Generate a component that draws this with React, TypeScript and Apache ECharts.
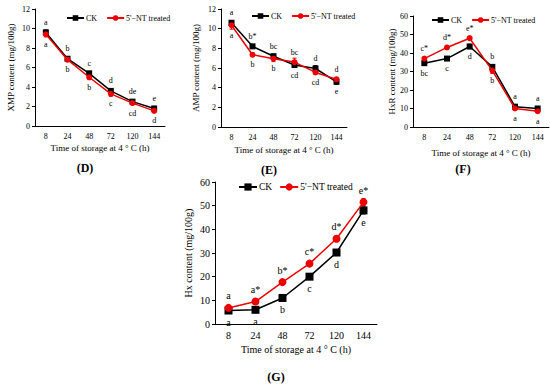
import React, { useEffect, useRef } from "react";
import * as echarts from "echarts";

const categories = ["8", "24", "48", "72", "120", "144"];

// (D) XMP
const xmpCK = [9.6, 6.9, 5.4, 3.6, 2.5, 1.8];
const xmpNT = [9.4, 6.8, 5.0, 3.3, 2.35, 1.55];
const xmpCKErr = [0.25, 0.2, 0.2, 0.2, 0.15, 0.15];
const xmpNTErr = [0.25, 0.2, 0.25, 0.25, 0.15, 0.15];
const xmpCKLetters = ["a", "b", "c", "d", "de", "e"];
const xmpNTLetters = ["a", "b", "b", "c", "cd", "d"];

// (E) AMP
const ampCK = [10.6, 8.2, 7.2, 6.3, 5.95, 4.6];
const ampNT = [10.35, 7.35, 6.95, 6.6, 5.55, 4.85];
const ampCKErr = [0.2, 0.2, 0.2, 0.25, 0.3, 0.25];
const ampNTErr = [0.4, 0.2, 0.3, 0.4, 0.2, 0.2];
const ampCKLetters = ["a", "b*", "bc", "cd", "d", "e"];
const ampNTLetters = ["a", "b", "b", "bc", "cd", "d"];

// (F) HxR
const hxrCK = [34.5, 37, 43.5, 32.5, 11, 10];
const hxrNT = [37, 43, 48, 30.5, 10, 8.5];
const hxrCKErr = [1.2, 0.8, 1.2, 1.0, 0.6, 0.6];
const hxrNTErr = [0.8, 0.8, 1.0, 1.5, 0.6, 0.8];
const hxrCKLetters = ["bc", "c", "d", "b", "a", "a"];
const hxrNTLetters = ["c*", "d*", "e*", "b", "a", "a"];

// (G) Hx
const hxCK = [5.7, 6.0, 11.0, 20.0, 30.2, 48.0];
const hxNT = [6.8, 9.5, 17.7, 25.5, 36.0, 51.5];
const hxCKErr = [0.5, 0.5, 0.6, 0.8, 1.0, 1.5];
const hxNTErr = [0.5, 0.6, 0.7, 1.0, 1.2, 1.5];
const hxCKLetters = ["a", "a", "b", "c", "d", "e"];
const hxNTLetters = ["a", "a*", "b*", "c*", "d*", "e*"];

const CK_NAME = "CK";
const NT_NAME = "5'\u2212NT treated";
const FONT = "'Liberation Serif', 'Times New Roman', serif";
const RED = "#ee0000";
const BLACK = "#000000";

type PanelData = {
  yName: string;
  max: number;
  interval: number;
  ck: number[];
  nt: number[];
  ckErr: number[];
  ntErr: number[];
  ckLetters: string[];
  ntLetters: string[];
};

type Layout = {
  left: number;
  top: number;
  width: number;
  height: number;
  fs: number;
  nameFs: number;
  legendFs: number;
  yGap: number;
  xGap: number;
  legendLeft: number;
  legendTop: number;
  itemWidth: number;
  itemGap: number;
};

const panels: PanelData[] = [
  { yName: "XMP content (mg/100g)", max: 12, interval: 2, ck: xmpCK, nt: xmpNT, ckErr: xmpCKErr, ntErr: xmpNTErr, ckLetters: xmpCKLetters, ntLetters: xmpNTLetters },
  { yName: "AMP content (mg/100g)", max: 12, interval: 2, ck: ampCK, nt: ampNT, ckErr: ampCKErr, ntErr: ampNTErr, ckLetters: ampCKLetters, ntLetters: ampNTLetters },
  { yName: "HxR content (mg/100g)", max: 60, interval: 10, ck: hxrCK, nt: hxrNT, ckErr: hxrCKErr, ntErr: hxrNTErr, ckLetters: hxrCKLetters, ntLetters: hxrNTLetters },
  { yName: "Hx content (mg/100g)", max: 60, interval: 10, ck: hxCK, nt: hxNT, ckErr: hxCKErr, ntErr: hxNTErr, ckLetters: hxCKLetters, ntLetters: hxNTLetters },
];

const layouts: Layout[] = [
  { left: 35, top: 9, width: 130, height: 117, fs: 8, nameFs: 9, legendFs: 8, yGap: 20, xGap: 17, legendLeft: 61, legendTop: 9, itemWidth: 17, itemGap: 9 },
  { left: 221, top: 9, width: 126, height: 118, fs: 8, nameFs: 9, legendFs: 8, yGap: 21, xGap: 18, legendLeft: 246, legendTop: 7, itemWidth: 17, itemGap: 9 },
  { left: 413, top: 16, width: 136, height: 111, fs: 8, nameFs: 9, legendFs: 8, yGap: 17, xGap: 21, legendLeft: 426, legendTop: 11, itemWidth: 17, itemGap: 9 },
  { left: 215, top: 182, width: 162, height: 142, fs: 10, nameFs: 10, legendFs: 9.5, yGap: 22, xGap: 20, legendLeft: 233, legendTop: 177, itemWidth: 18, itemGap: 7 },
];

const panelTags = [
  { text: "(D)", x: 85, y: 168 },
  { text: "(E)", x: 269, y: 170 },
  { text: "(F)", x: 463, y: 169 },
  { text: "(G)", x: 276, y: 377 },
];

function errRender(color: string) {
  return (params: any, api: any) => {
    const x = api.value(0);
    const y = api.value(1);
    const e = api.value(2);
    const top = api.coord([x, y + e]);
    const bot = api.coord([x, y - e]);
    const c = 2;
    const style = { stroke: color, lineWidth: 1 };
    return {
      type: "group",
      children: [
        { type: "line", shape: { x1: top[0], y1: top[1], x2: bot[0], y2: bot[1] }, style },
        { type: "line", shape: { x1: top[0] - c, y1: top[1], x2: top[0] + c, y2: top[1] }, style },
        { type: "line", shape: { x1: bot[0] - c, y1: bot[1], x2: bot[0] + c, y2: bot[1] }, style },
      ],
    };
  };
}

function buildOption() {
  const grid: any[] = [];
  const xAxis: any[] = [];
  const yAxis: any[] = [];
  const legend: any[] = [];
  const series: any[] = [];

  panels.forEach((p, i) => {
    const L = layouts[i];
    grid.push({ left: L.left, top: L.top, width: L.width, height: L.height });
    xAxis.push({
      type: "category",
      gridIndex: i,
      data: categories,
      name: "Time of storage at 4 \u00b0 C (h)",
      nameLocation: "middle",
      nameGap: L.xGap,
      nameTextStyle: { fontFamily: FONT, fontSize: L.nameFs, color: BLACK },
      axisLine: { lineStyle: { color: BLACK, width: 1 } },
      axisTick: { inside: true, length: 3, lineStyle: { color: BLACK } },
      axisLabel: { fontFamily: FONT, fontSize: L.fs, color: BLACK, margin: 6 },
    });
    yAxis.push({
      type: "value",
      gridIndex: i,
      min: 0,
      max: p.max,
      interval: p.interval,
      name: p.yName,
      nameLocation: "middle",
      nameGap: L.yGap,
      nameRotate: 90,
      nameTextStyle: { fontFamily: FONT, fontSize: L.nameFs, color: BLACK },
      splitLine: { show: false },
      axisLine: { show: true, lineStyle: { color: BLACK, width: 1 } },
      axisTick: { show: true, length: 3, lineStyle: { color: BLACK } },
      axisLabel: { fontFamily: FONT, fontSize: L.fs, color: BLACK, margin: 5 },
    });
    legend.push({
      left: L.legendLeft,
      top: L.legendTop,
      orient: "horizontal",
      itemWidth: L.itemWidth,
      itemHeight: L.fs - 1,
      itemGap: L.itemGap,
      textStyle: { fontFamily: FONT, fontSize: L.legendFs, color: BLACK, padding: [0, 0, 0, -3] },
      data: [CK_NAME, NT_NAME],
    });

    const labelBase = {
      show: true,
      fontFamily: FONT,
      fontSize: L.fs,
      color: BLACK,
      distance: 3,
    };

    const mkData = (vals: number[], other: number[], letters: string[]) =>
      vals.map((v, k) => ({
        value: v,
        label: {
          ...labelBase,
          formatter: letters[k],
          position: v >= other[k] ? "top" : "bottom",
        },
      }));

    series.push({
      type: "custom",
      name: CK_NAME + "-err",
      xAxisIndex: i,
      yAxisIndex: i,
      renderItem: errRender(BLACK),
      data: p.ck.map((v, k) => [k, v, p.ckErr[k]]),
      encode: { x: 0, y: 1 },
      z: 1,
      silent: true,
    });
    series.push({
      type: "custom",
      name: NT_NAME + "-err",
      xAxisIndex: i,
      yAxisIndex: i,
      renderItem: errRender(RED),
      data: p.nt.map((v, k) => [k, v, p.ntErr[k]]),
      encode: { x: 0, y: 1 },
      z: 1,
      silent: true,
    });
    series.push({
      type: "line",
      name: CK_NAME,
      xAxisIndex: i,
      yAxisIndex: i,
      data: mkData(p.ck, p.nt, p.ckLetters),
      symbol: "rect",
      symbolSize: i === 3 ? 8 : 6,
      itemStyle: { color: BLACK },
      lineStyle: { color: BLACK, width: 1.5 },
      label: labelBase,
      z: 3,
    });
    series.push({
      type: "line",
      name: NT_NAME,
      xAxisIndex: i,
      yAxisIndex: i,
      data: mkData(p.nt, p.ck, p.ntLetters),
      symbol: "circle",
      symbolSize: i === 3 ? 8 : 6,
      itemStyle: { color: RED },
      lineStyle: { color: RED, width: 1.5 },
      label: labelBase,
      z: 4,
    });
  });

  const graphic = panelTags.map((t) => ({
    type: "text",
    x: t.x,
    y: t.y,
    style: {
      text: t.text,
      font: `bold 12px ${FONT}`,
      fill: BLACK,
      textAlign: "center",
      textVerticalAlign: "middle",
    },
  }));

  return {
    animation: false,
    backgroundColor: "#ffffff",
    grid,
    xAxis,
    yAxis,
    legend,
    series,
    graphic,
  };
}

export default function App() {
  const ref = useRef<HTMLDivElement>(null);
  useEffect(() => {
    if (!ref.current) return;
    const chart = echarts.init(ref.current, null, { renderer: "svg" });
    chart.setOption(buildOption() as any);
    return () => chart.dispose();
  }, []);
  return (
    <div
      ref={ref}
      style={{ width: 550, height: 385, position: "absolute", left: 0, top: 0 }}
    />
  );
}
